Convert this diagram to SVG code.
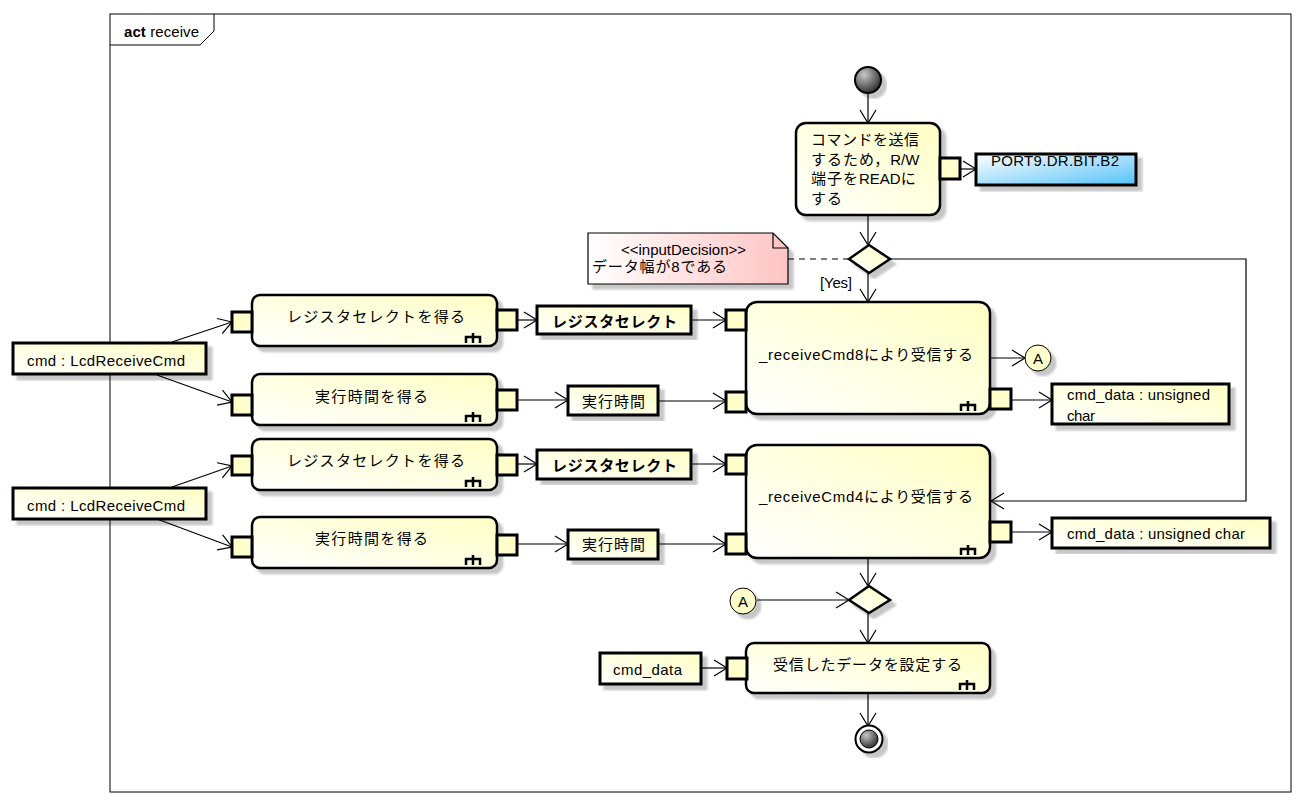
<svg xmlns="http://www.w3.org/2000/svg" width="1304" height="805" viewBox="0 0 1304 805">
<style>
text{font-family:"Liberation Sans","Noto Sans CJK JP",sans-serif;font-size:15px;fill:#000}
.j{letter-spacing:1px}
.act{fill:url(#actG);stroke:#000;stroke-width:2.5}
.obj{fill:url(#actG);stroke:#000;stroke-width:3}
.pin{fill:#ffffcc;stroke:#000;stroke-width:3}
.rake{fill:none;stroke:#000;stroke-width:2.5}
.ln{fill:none;stroke:#000;stroke-width:1.2}
.m{text-anchor:middle}
</style>
<defs>
<linearGradient id="actG" x1="0" y1="1" x2="1" y2="0"><stop offset="0" stop-color="#ffffff"/><stop offset="1" stop-color="#ffffc4"/></linearGradient>
<linearGradient id="blueG" x1="0" y1="0" x2="1" y2="1"><stop offset="0" stop-color="#ffffff"/><stop offset="1" stop-color="#55c2f8"/></linearGradient>
<linearGradient id="pinkG" x1="0" y1="0" x2="1" y2="0"><stop offset="0" stop-color="#ffffff"/><stop offset="1" stop-color="#ffc4c4"/></linearGradient>
<radialGradient id="grayG" cx="0.35" cy="0.3" r="0.75"><stop offset="0" stop-color="#c8c8c8"/><stop offset="1" stop-color="#2a2a2a"/></radialGradient>
<filter id="sh" x="-20%" y="-20%" width="140%" height="140%"><feDropShadow dx="5" dy="5" stdDeviation="1" flood-color="#000" flood-opacity="0.22"/></filter>
<marker id="ar" markerUnits="userSpaceOnUse" markerWidth="20" markerHeight="20" viewBox="-15 -10 20 20" refX="0" refY="0" orient="auto"><path d="M-13,-8 L0,0 L-13,8" fill="none" stroke="#000" stroke-width="1.2"/></marker>
</defs>
<rect width="1304" height="805" fill="#fff"/>
<g id="frame">
<rect x="110" y="14" width="1181" height="778" fill="none" stroke="#000" stroke-width="1"/>
<path d="M110,45 H200 L214,31 V14" fill="none" stroke="#000" stroke-width="1"/>
<text x="124" y="37" textLength="75" lengthAdjust="spacing"><tspan font-weight="bold">act</tspan> receive</text>
</g>
<g id="connectors">
<line class="ln" x1="868" y1="93" x2="868" y2="123" marker-end="url(#ar)"/>
<line class="ln" x1="868" y1="215" x2="868" y2="245" marker-end="url(#ar)"/>
<line class="ln" x1="960" y1="169" x2="976" y2="169" marker-end="url(#ar)"/>
<line class="ln" x1="788" y1="259" x2="849" y2="259" stroke-dasharray="6,5"/>
<polyline class="ln" points="889,259 1246,259 1246,501 991,501" marker-end="url(#ar)"/>
<line class="ln" x1="868" y1="273" x2="868" y2="302" marker-end="url(#ar)"/>
<text x="820" y="288" textLength="32" lengthAdjust="spacing">[Yes]</text>
<line class="ln" x1="172" y1="342" x2="232" y2="322" marker-end="url(#ar)"/>
<line class="ln" x1="157" y1="375" x2="232" y2="402" marker-end="url(#ar)"/>
<line class="ln" x1="517" y1="320" x2="537" y2="320" marker-end="url(#ar)"/>
<line class="ln" x1="691" y1="320" x2="726" y2="320" marker-end="url(#ar)"/>
<line class="ln" x1="517" y1="400" x2="568" y2="400" marker-end="url(#ar)"/>
<line class="ln" x1="658" y1="401" x2="726" y2="401" marker-end="url(#ar)"/>
<line class="ln" x1="990" y1="358" x2="1025" y2="358" marker-end="url(#ar)"/>
<line class="ln" x1="1012" y1="400" x2="1052" y2="400" marker-end="url(#ar)"/>
<line class="ln" x1="172" y1="487" x2="232" y2="466" marker-end="url(#ar)"/>
<line class="ln" x1="157" y1="519" x2="232" y2="547" marker-end="url(#ar)"/>
<line class="ln" x1="517" y1="464" x2="537" y2="464" marker-end="url(#ar)"/>
<line class="ln" x1="691" y1="464" x2="726" y2="464" marker-end="url(#ar)"/>
<line class="ln" x1="517" y1="544" x2="568" y2="544" marker-end="url(#ar)"/>
<line class="ln" x1="658" y1="544" x2="726" y2="544" marker-end="url(#ar)"/>
<line class="ln" x1="1012" y1="532" x2="1052" y2="532" marker-end="url(#ar)"/>
<line class="ln" x1="868" y1="558" x2="868" y2="586" marker-end="url(#ar)"/>
<line class="ln" x1="757" y1="600" x2="849" y2="600" marker-end="url(#ar)"/>
<line class="ln" x1="868" y1="613" x2="868" y2="643" marker-end="url(#ar)"/>
<line class="ln" x1="701" y1="668" x2="727" y2="668" marker-end="url(#ar)"/>
<line class="ln" x1="868" y1="693" x2="868" y2="726" marker-end="url(#ar)"/>
</g>
<g id="initial">
<circle cx="868" cy="80" r="13" fill="url(#grayG)" stroke="#000" stroke-width="2" filter="url(#sh)"/>
</g>
<g id="setRW">
<rect class="act" x="796" y="123" width="144" height="92" rx="10" filter="url(#sh)"/>
<text x="811" y="145" textLength="108" lengthAdjust="spacing">コマンドを送信</text>
<text x="811" y="165"><tspan class="j">するため，</tspan>R/W</text>
<text x="811" y="184"><tspan class="j">端子を</tspan>READ<tspan class="j">に</tspan></text>
<text x="811" y="204"><tspan class="j">する</tspan></text>
<rect class="pin" x="940" y="158" width="20" height="21"/>
</g>
<g id="port9">
<rect x="976" y="154" width="160" height="31" fill="url(#blueG)" stroke="#000" stroke-width="3" filter="url(#sh)"/>
<text class="m" x="1055" y="166" textLength="128" lengthAdjust="spacing">PORT9.DR.BIT.B2</text>
</g>
<g id="decision1">
<path d="M869,245 L890,259 L869,273 L849,259 Z" fill="url(#actG)" stroke="#000" stroke-width="2.5" filter="url(#sh)"/>
</g>
<g id="note">
<path d="M588,233 H773 L788,248 V284 H588 Z" fill="url(#pinkG)" stroke="#000" stroke-width="1.2" filter="url(#sh)"/>
<path d="M773,233 V248 H788" fill="none" stroke="#000" stroke-width="1.2"/>
<text class="m" x="683.5" y="255" textLength="125" lengthAdjust="spacing">&lt;&lt;inputDecision&gt;&gt;</text>
<text x="592" y="272" textLength="135" lengthAdjust="spacing">データ幅が8である</text>
</g>
<g id="cmd1">
<rect class="obj" x="13" y="343" width="193" height="31" filter="url(#sh)"/>
<text x="27" y="366" textLength="158" lengthAdjust="spacing">cmd : LcdReceiveCmd</text>
</g>
<g id="getRS1">
<rect class="act" x="252" y="295" width="245" height="51" rx="8" filter="url(#sh)"/>
<text class="m" x="376" y="322" textLength="178" lengthAdjust="spacing">レジスタセレクトを得る</text>
<path class="rake" d="M466,343 V337 H480 V343 M473,333 V343"/>
<rect class="pin" x="232" y="312" width="20" height="20"/>
<rect class="pin" x="497" y="310" width="20" height="20"/>
</g>
<g id="getTime1">
<rect class="act" x="252" y="374" width="245" height="51" rx="8" filter="url(#sh)"/>
<text class="m" x="371.5" y="402" textLength="113" lengthAdjust="spacing">実行時間を得る</text>
<path class="rake" d="M466,422 V416 H480 V422 M473,412 V422"/>
<rect class="pin" x="232" y="395" width="20" height="20"/>
<rect class="pin" x="497" y="390" width="20" height="20"/>
</g>
<g id="rsObj1">
<rect class="obj" x="537" y="306" width="154" height="28" filter="url(#sh)"/>
<text class="m" x="614.5" y="327" font-weight="bold" textLength="125" lengthAdjust="spacing">レジスタセレクト</text>
</g>
<g id="timeObj1">
<rect class="obj" x="568" y="386" width="90" height="29" filter="url(#sh)"/>
<text class="m" x="613.5" y="407" textLength="63" lengthAdjust="spacing">実行時間</text>
</g>
<g id="recv8">
<rect class="act" x="746" y="302" width="244" height="112" rx="11" filter="url(#sh)"/>
<text class="m" x="866" y="360" textLength="214" lengthAdjust="spacing">_receiveCmd8により受信する</text>
<path class="rake" d="M961,411 V405 H975 V411 M968,401 V411"/>
<rect class="pin" x="726" y="310" width="20" height="20"/>
<rect class="pin" x="726" y="392" width="20" height="20"/>
<rect class="pin" x="990" y="389" width="21" height="20"/>
</g>
<g id="connA1">
<circle cx="1038" cy="358" r="13" fill="#ffffcc" stroke="#000" stroke-width="1" filter="url(#sh)"/>
<text class="m" x="1038" y="363.5">A</text>
</g>
<g id="data8">
<rect class="obj" x="1052" y="384" width="177" height="40" filter="url(#sh)"/>
<text x="1067" y="400" textLength="143" lengthAdjust="spacing">cmd_data : unsigned</text>
<text x="1067" y="421" textLength="28" lengthAdjust="spacing">char</text>
</g>
<g id="cmd2">
<rect class="obj" x="13" y="488" width="193" height="31" filter="url(#sh)"/>
<text x="27" y="511" textLength="158" lengthAdjust="spacing">cmd : LcdReceiveCmd</text>
</g>
<g id="getRS2">
<rect class="act" x="252" y="439" width="245" height="51" rx="8" filter="url(#sh)"/>
<text class="m" x="376" y="466" textLength="178" lengthAdjust="spacing">レジスタセレクトを得る</text>
<path class="rake" d="M466,487 V481 H480 V487 M473,477 V487"/>
<rect class="pin" x="232" y="456" width="20" height="19"/>
<rect class="pin" x="497" y="455" width="20" height="20"/>
</g>
<g id="getTime2">
<rect class="act" x="252" y="517" width="245" height="51" rx="8" filter="url(#sh)"/>
<text class="m" x="371.5" y="544" textLength="113" lengthAdjust="spacing">実行時間を得る</text>
<path class="rake" d="M466,565 V559 H480 V565 M473,555 V565"/>
<rect class="pin" x="232" y="537" width="20" height="20"/>
<rect class="pin" x="497" y="535" width="20" height="20"/>
</g>
<g id="rsObj2">
<rect class="obj" x="537" y="450" width="154" height="29" filter="url(#sh)"/>
<text class="m" x="614.5" y="471" font-weight="bold" textLength="125" lengthAdjust="spacing">レジスタセレクト</text>
</g>
<g id="timeObj2">
<rect class="obj" x="568" y="530" width="90" height="29" filter="url(#sh)"/>
<text class="m" x="613.5" y="550" textLength="63" lengthAdjust="spacing">実行時間</text>
</g>
<g id="recv4">
<rect class="act" x="746" y="445" width="244" height="113" rx="11" filter="url(#sh)"/>
<text class="m" x="866" y="502" textLength="214" lengthAdjust="spacing">_receiveCmd4により受信する</text>
<path class="rake" d="M961,555 V549 H975 V555 M968,545 V555"/>
<rect class="pin" x="726" y="455" width="20" height="19"/>
<rect class="pin" x="726" y="534" width="20" height="20"/>
<rect class="pin" x="990" y="522" width="21" height="20"/>
</g>
<g id="data4">
<rect class="obj" x="1052" y="518" width="218" height="30" filter="url(#sh)"/>
<text x="1067" y="539" textLength="178" lengthAdjust="spacing">cmd_data : unsigned char</text>
</g>
<g id="merge">
<path d="M869,586 L890,600 L869,613 L849,600 Z" fill="url(#actG)" stroke="#000" stroke-width="2.5" filter="url(#sh)"/>
</g>
<g id="connA2">
<circle cx="743" cy="601" r="13" fill="#ffffcc" stroke="#000" stroke-width="1" filter="url(#sh)"/>
<text class="m" x="743" y="606.5">A</text>
</g>
<g id="cmdData">
<rect class="obj" x="600" y="653" width="101" height="31" filter="url(#sh)"/>
<text class="m" x="647.5" y="675" textLength="69" lengthAdjust="spacing">cmd_data</text>
</g>
<g id="setData">
<rect class="act" x="746" y="643" width="244" height="50" rx="8" filter="url(#sh)"/>
<text class="m" x="867.5" y="670" textLength="189" lengthAdjust="spacing">受信したデータを設定する</text>
<path class="rake" d="M960,690 V684 H974 V690 M967,680 V690"/>
<rect class="pin" x="727" y="658" width="20" height="21"/>
</g>
<g id="final">
<circle cx="869" cy="739" r="13.5" fill="#fff" stroke="#000" stroke-width="2" filter="url(#sh)"/>
<circle cx="869" cy="739" r="9" fill="url(#grayG)" stroke="#000" stroke-width="1"/>
</g>
</svg>
